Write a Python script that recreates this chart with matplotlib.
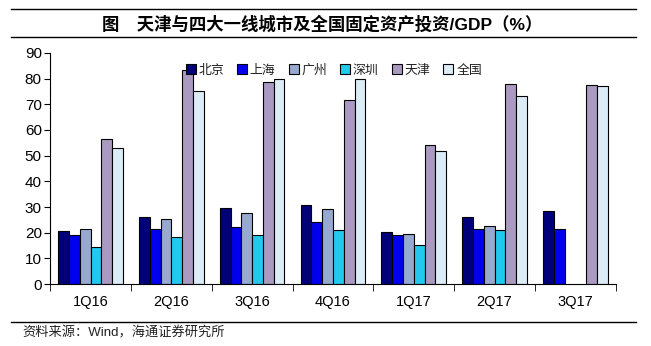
import numpy as np
import matplotlib.pyplot as plt
from matplotlib.lines import Line2D

plt.rcParams['font.family'] = ['Liberation Sans', 'Noto Sans CJK SC']

quarters = ['1Q16', '2Q16', '3Q16', '4Q16', '1Q17', '2Q17', '3Q17']
series = ['北京', '上海', '广州', '深圳', '天津', '全国']
beijing = [20.5, 26.3, 29.8, 30.6, 20.2, 26.3, 28.3]
shanghai = [19.0, 21.5, 22.4, 24.0, 19.3, 21.5, 21.5]
guangzhou = [21.5, 25.3, 27.8, 29.2, 19.6, 22.8, np.nan]
shenzhen = [14.3, 18.5, 19.1, 21.0, 15.3, 21.0, np.nan]
tianjin = [56.5, 83.3, 78.5, 71.5, 54.2, 78.0, 77.6]
national = [53.0, 75.0, 80.0, 80.0, 51.8, 73.3, 77.2]
values = [beijing, shanghai, guangzhou, shenzhen, tianjin, national]
colors = ['#00007a', '#0000ee', '#97a9cf', '#22c8ee', '#aa9ac2', '#dcecf7']

fig = plt.figure(figsize=(6.51, 3.46), dpi=100)
ax = fig.add_axes([0.077, 0.179, 0.869, 0.668])

x = np.arange(len(quarters))
w = 0.8 / len(series)
for i, (name, vals) in enumerate(zip(series, values)):
    ax.bar(x - 0.4 + w * (i + 0.5), vals, w, color=colors[i],
           edgecolor='black', linewidth=0.8, label=name)

ax.set_xlim(-0.5, len(quarters) - 0.5)
ax.set_ylim(0, 90)
ax.set_yticks(range(0, 91, 10))
ax.set_xticks(x)
ax.set_xticklabels(quarters)
ax.set_xticks(np.arange(-0.5, len(quarters), 1), minor=True)
ax.tick_params(axis='x', which='major', length=0, pad=8, labelsize=10.5)
ax.tick_params(axis='x', which='minor', length=5, direction='out')
ax.tick_params(axis='y', length=4, labelsize=11, pad=2)
for s in ['top', 'right']:
    ax.spines[s].set_visible(False)

handles = [Line2D([], [], marker='s', linestyle='none', markersize=7,
                  markerfacecolor=c, markeredgecolor='black', markeredgewidth=0.8)
           for c in colors]
leg = ax.legend(handles, series, loc='upper center', bbox_to_anchor=(0.5, 1.0), ncol=6,
                frameon=False, fontsize=9.3, handletextpad=0.1, columnspacing=0.9,
                handlelength=1.0)
for t in leg.get_texts():
    t.set_color('#222222')

# title and rules
for yy in [9, 37, 322]:
    fig.add_artist(Line2D([11 / 651, 636 / 651], [1 - yy / 346, 1 - yy / 346],
                          color='black', lw=1))
fig.text(102 / 651, 1 - 24 / 346, '图　天津与四大一线城市及全国固定资产投资/GDP（%）',
         ha='left', va='center', fontsize=12.5, fontweight='bold')
fig.text(22 / 651, 1 - 333 / 346, '资料来源：Wind，海通证券研究所',
         ha='left', va='center', fontsize=9.5, color='#222222')

fig.savefig('out.png', dpi=100)
